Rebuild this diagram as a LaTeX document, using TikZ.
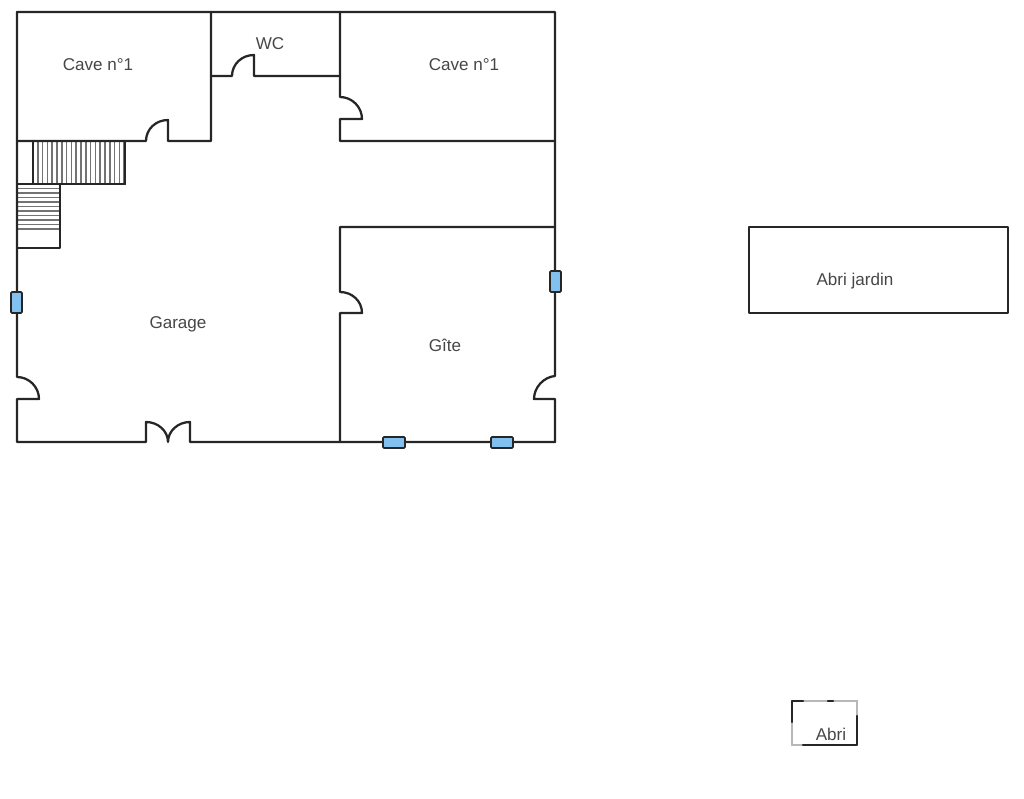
\documentclass[tikz,border=0pt]{standalone}
\usepackage{xcolor}
\usepackage{fontspec}
\setmainfont{Liberation Sans}
\definecolor{WallColor}{RGB}{38, 38, 38}
\definecolor{LabelColor}{RGB}{70, 70, 70}
\definecolor{WindowBlue}{RGB}{130, 192, 240}
\tikzset{
    wall/.style={draw=WallColor, line width=1.7pt, line join=round, line cap=round},
    stair/.style={draw=black!55, line width=1.1pt},
    window/.style={draw=WallColor, fill=WindowBlue, line width=1.3pt, rounded corners=0.8pt},
    faint/.style={draw=black!28, line width=1.2pt},
    room/.style={text=LabelColor, font=\fontsize{12.8}{15}\selectfont, inner sep=0pt}
}

\begin{document}
\begin{tikzpicture}[x=0.75pt, y=-0.75pt]
    \useasboundingbox (0,0) rectangle (1024,799);

    % Stairs
    \foreach \x in {33,37.8,...,125} {
        \draw[stair] (\x,141) -- (\x,184);
    }
    \foreach \y in {188.5,193,...,233} {
        \draw[stair] (17,\y) -- (60,\y);
    }
    \draw[wall] (33,141) -- (33,184);
    \draw[wall] (125,141) -- (125,184);
    \draw[wall] (17,184) -- (125,184);
    \draw[wall] (60,184) -- (60,248) -- (17,248);

    % Outer wall, left and bottom
    \draw[wall] (17,12) -- (17,377) .. controls (29,377) and (39,387) .. (39,399) -- (17,399) -- (17,442) -- (146,442) -- (146,422)
        .. controls (158,422) and (168,431) .. (168,442) .. controls (168,431) and (178,422) .. (190,422) -- (190,442) -- (555,442);

    % Outer wall, right and top
    \draw[wall] (555,442) -- (555,399) -- (534,399) .. controls (534,387) and (544,377) .. (555,376) -- (555,12) -- (17,12);

    % Cave left
    \draw[wall] (17,141) -- (146,141) .. controls (146,129) and (156,120) .. (168,120) -- (168,141) -- (211,141) -- (211,12);

    % WC
    \draw[wall] (211,76) -- (232,76) .. controls (232,64) and (242,55) .. (254,55) -- (254,76) -- (340,76);

    % Cave right
    \draw[wall] (340,12) -- (340,97) .. controls (352,97) and (362,107) .. (362,119) -- (340,119) -- (340,141) -- (555,141);

    % Gite
    \draw[wall] (555,227) -- (340,227) -- (340,292) .. controls (352,292) and (362,301) .. (362,313) -- (340,313) -- (340,442);

    % Windows
    \draw[window] (11,292) rectangle (22,313);
    \draw[window] (550,271) rectangle (561,292);
    \draw[window] (383,437) rectangle (405,448);
    \draw[window] (491,437) rectangle (513,448);

    % Abri jardin
    \draw[wall] (749,227) rectangle (1008,313);

    % Abri
    \draw[faint] (792,701) rectangle (857,745);
    \draw[wall] (803,701) -- (792,701) -- (792,722);
    \draw[wall] (828,701) -- (833,701);
    \draw[wall] (857,716) -- (857,745) -- (803,745);

    % Names
    \node[room] (caveleft) at (98,65) {Cave n°1};
    \node[room] (caveright) at (464,65) {Cave n°1};
    \node[room] (wc) at (270,44) {WC};
    \node[room] (garage) at (178,324) {Garage};
    \node[room] (gite) at (445,345) {Gîte};
    \node[room] (abrijardin) at (855,281) {Abri jardin};
    \node[room] (abri) at (831,734) {Abri};
\end{tikzpicture}
\end{document}
